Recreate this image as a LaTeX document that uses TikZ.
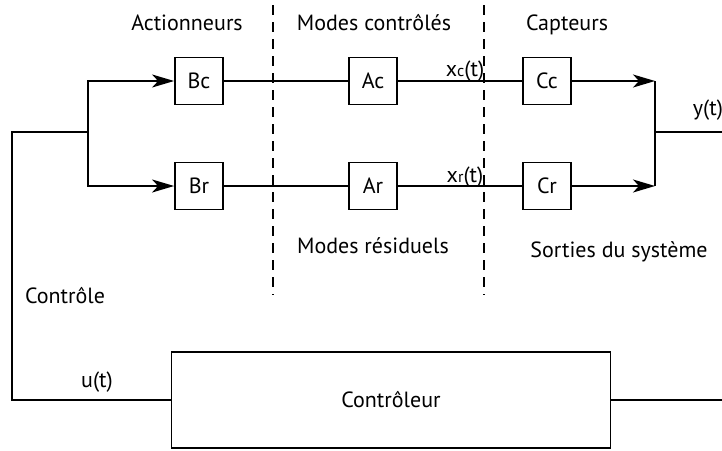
\documentclass[tikz,border=0pt]{standalone}
\usepackage{fontspec}
\setmainfont{PT Sans}
\usetikzlibrary{arrows.meta,positioning,calc}
\tikzset{
  blk/.style={draw, line width=1.8pt, minimum width=48pt, minimum height=47pt,
    inner sep=0pt, font=\fontsize{22}{26}\selectfont},
  wire/.style={line width=1.8pt},
  flow/.style={-{Stealth[length=22pt, width=13pt, inset=6pt]}, line width=1.8pt},
  sep/.style={line width=1.6pt, dash pattern=on 10pt off 7pt},
  lbl/.style={anchor=base, inner sep=0pt, font=\fontsize{22}{26}\selectfont},
}
\newcommand{\sbs}[1]{{\fontsize{16}{18}\selectfont #1}}

\begin{document}
\begin{tikzpicture}[x=1pt, y=-1pt]
\useasboundingbox (0,0) rectangle (722,450);

% zones
\draw[sep] (273,5) -- (273,295);
\draw[sep] (484,5) -- (484,295);
\node[lbl] (actlbl) at (187,30) {Actionneurs};
\node[lbl] (modclbl) at (374,30) {Modes contrôlés};
\node[lbl] (caplbl) at (567,30) {Capteurs};
\node[lbl] (modrlbl) at (373,253) {Modes résiduels};
\node[lbl] (sortlbl) at (619,257) {Sorties du système};
\node[lbl] (cmdlbl) at (65,303) {Contrôle};

% blocks
\node[blk] (bc) at (199,81) {Bc};
\node[blk] (ac) at (373,81) {Ac};
\node[blk] (cc) at (547,81) {Cc};
\node[blk] (br) at (199,186) {Br};
\node[blk] (ar) at (373,186) {Ar};
\node[blk] (cr) at (547,186) {Cr};
\node[blk, minimum width=439pt, minimum height=96pt] (ctrl) at (391,400) {Contrôleur};

\coordinate (split) at (88,132);
\coordinate (lft) at (12,400);
\coordinate (mrgc) at (655,81);
\coordinate (mrgr) at (655,186);
\coordinate (join) at (655,132);
\coordinate (yout) at (722,132);
\coordinate (rout) at (722,400);

% loop
\draw[wire] (ctrl.west) -- (lft) |- (split);
\draw[flow] (split) |- (bc);
\draw[flow] (split) |- (br);
\draw[wire] (bc) -- (ac) -- (cc);
\draw[wire] (br) -- (ar) -- (cr);
\draw[flow] (cc) -- (mrgc);
\draw[flow] (cr) -- (mrgr);
\draw[wire] (mrgc) -- (mrgr);
\draw[wire] (join) -- (yout);
\draw[wire] (ctrl.east) -- (rout);

% signals
\node[lbl] (xc) at (465,76) {x\sbs{c}(t)};
\node[lbl] (xr) at (465,182) {x\sbs{r}(t)};
\node[lbl] (yt) at (708,115) {y(t)};
\node[lbl] (ut) at (97,387) {u(t)};

\end{tikzpicture}
\end{document}
